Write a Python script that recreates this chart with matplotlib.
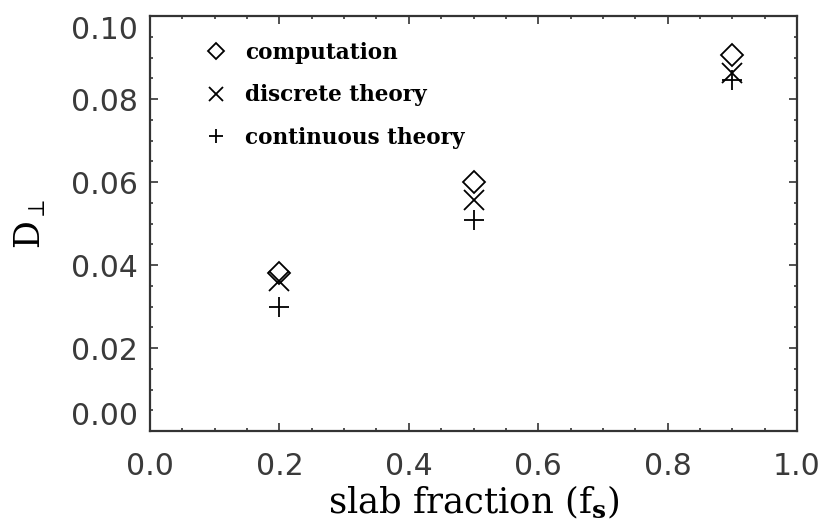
import numpy as np
import matplotlib
matplotlib.use("Agg")
from matplotlib import pyplot as plt
from matplotlib.ticker import MultipleLocator

# slab fraction vs perpendicular diffusion coefficient
fs = [0.2, 0.5, 0.9]
D_comp = [0.0381, 0.0600, 0.0906]       # computation
D_disc = [0.0361, 0.0557, 0.0863]       # discrete theory
D_cont = [0.0299, 0.0508, 0.0846]       # continuous theory

labels = ["computation", "discrete theory", "continuous theory"]

plt.rcParams["mathtext.fontset"] = "dejavuserif"

fig = plt.figure(figsize=(8.26, 5.32), dpi=100)
ax = fig.add_axes([0.1816, 0.1898, 0.7833, 0.7801])

ax.plot(fs, D_comp, linestyle="None", marker="D", markersize=11, markerfacecolor="none",
        markeredgecolor="k", markeredgewidth=1.3, label=labels[0])
ax.plot(fs, D_disc, linestyle="None", marker="x", markersize=15, color="k",
        markeredgewidth=1.3, label=labels[1])
ax.plot(fs, D_cont, linestyle="None", marker="+", markersize=15, color="k",
        markeredgewidth=1.3, label=labels[2])

ax.set_xlim(0.0, 1.0)
ax.set_ylim(0.0, 0.10)
ax.set_xticks(np.arange(0, 1.01, 0.2))
ax.set_yticks(np.arange(0, 0.101, 0.02))
ax.xaxis.set_minor_locator(MultipleLocator(0.05))
ax.yaxis.set_minor_locator(MultipleLocator(0.005))
ax.xaxis.set_major_formatter(matplotlib.ticker.FormatStrFormatter("%.1f"))
ax.yaxis.set_major_formatter(matplotlib.ticker.FormatStrFormatter("%.2f"))

ax.tick_params(which="both", direction="in", top=True, right=True, width=1.1, color="#222222")
ax.tick_params(which="major", length=5.5)
ax.tick_params(which="minor", length=2.5)
ax.tick_params(axis="x", which="major", pad=15, labelsize=21.5, labelcolor="#3a3a3a")
ax.tick_params(axis="y", which="major", pad=9, labelsize=21.5, labelcolor="#3a3a3a")
for s in ax.spines.values():
    s.set_linewidth(1.6)
    s.set_color("#333333")

# end labels sit inside the axis range
ylabs = ax.get_yticklabels()
ylabs[0].set_va("bottom")
ylabs[-1].set_va("top")

ax.set_xlabel(r"slab fraction (f$_\mathbf{s}$)", family="DejaVu Serif", fontsize=25.5, labelpad=2)
ax.set_ylabel(r"D$_\perp$", family="DejaVu Serif", fontsize=25, labelpad=16)

ax.legend(loc="upper left", bbox_to_anchor=(0.055, 0.985), frameon=False, markerscale=0.7,
          handlelength=1.0, handletextpad=0.85, labelspacing=0.95,
          prop={"family": "DejaVu Serif", "weight": "bold", "size": 15.5})

plt.savefig("out.png", dpi=100)
